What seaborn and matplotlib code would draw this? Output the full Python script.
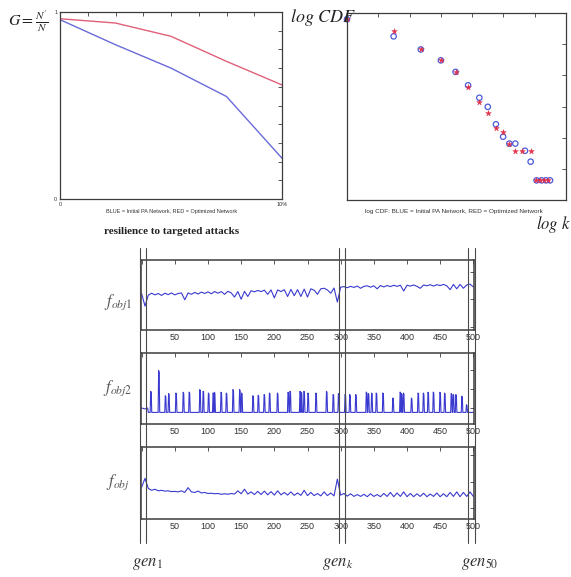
"""Resilience / degree distribution / objective traces figure."""

import matplotlib
matplotlib.use("Agg")
import matplotlib.pyplot as plt
import seaborn as sns
import numpy as np

sns.set_style("white")
plt.rcParams['font.family'] = ['Liberation Sans', 'DejaVu Sans']
plt.rcParams['mathtext.fontset'] = 'stix'

# --- top left: fraction of giant component vs. % of hubs removed
removed_pct = [0, 2.5, 5, 7.5, 10]
g_initial = [0.959, 0.825, 0.700, 0.548, 0.218]
g_optimized = [0.964, 0.941, 0.870, 0.736, 0.610]

# --- top right: log CDF of degree
logk_initial = [0.0, 1.49, 2.36, 3.00, 3.47, 3.87, 4.23, 4.50, 4.76, 4.99,
                5.19, 5.38, 5.69, 5.87, 6.06, 6.22, 6.36, 6.49]
logcdf_initial = [5.80, 5.25, 4.83, 4.48, 4.11, 3.68, 3.28, 2.99, 2.43, 2.03,
                  1.81, 1.81, 1.58, 1.23, 0.63, 0.63, 0.63, 0.63]
logk_optimized = [0.0, 1.49, 2.36, 3.00, 3.47, 3.87, 4.23, 4.50, 4.76, 4.99,
                  5.19, 5.38, 5.58, 5.87, 6.03, 6.17, 6.30, 6.44]
logcdf_optimized = [5.80, 5.42, 4.83, 4.48, 4.11, 3.61, 3.13, 2.78, 2.32, 2.19,
                    1.81, 1.58, 1.58, 1.58, 0.63, 0.63, 0.63, 0.63]

# --- bottom: objective traces over generations (sampled every 5 gens)
generations = list(range(0, 501, 5))
f_obj1 = [2.20, 1.75, 2.15, 2.22, 2.16, 2.21, 2.14, 2.22, 2.17, 2.23,
          2.16, 2.21, 2.23, 1.98, 2.23, 2.18, 2.25, 2.19, 2.26, 2.21,
          2.27, 2.20, 2.28, 2.22, 2.28, 2.18, 2.29, 2.23, 2.08, 2.28,
          2.00, 2.29, 2.10, 2.31, 2.27, 2.32, 2.28, 2.33, 2.18, 2.34,
          2.05, 2.34, 2.28, 2.35, 2.10, 2.36, 2.13, 2.35, 2.10, 2.37,
          2.08, 2.38, 2.33, 2.18, 2.38, 2.40, 2.34, 2.22, 2.41, 1.90,
          2.44, 2.46, 2.42, 2.47, 2.43, 2.48, 2.40, 2.47, 2.49, 2.44,
          2.49, 2.38, 2.50, 2.45, 2.50, 2.46, 2.51, 2.47, 2.51, 2.30,
          2.51, 2.48, 2.52, 2.47, 2.40, 2.52, 2.49, 2.53, 2.48, 2.53,
          2.50, 2.54, 2.49, 2.35, 2.54, 2.38, 2.54, 2.40, 2.52, 2.55,
          2.45]
f_obj = [1.80, 2.13, 1.75, 1.68, 1.72, 1.66, 1.68, 1.65, 1.66, 1.63,
         1.64, 1.62, 1.66, 1.60, 1.78, 1.62, 1.60, 1.65, 1.58, 1.60,
         1.56, 1.57, 1.55, 1.56, 1.53, 1.55, 1.53, 1.56, 1.54, 1.66,
         1.55, 1.72, 1.54, 1.62, 1.52, 1.64, 1.52, 1.65, 1.51, 1.63,
         1.50, 1.66, 1.51, 1.60, 1.50, 1.62, 1.49, 1.58, 1.49, 1.68,
         1.48, 1.60, 1.48, 1.56, 1.47, 1.62, 1.48, 1.58, 1.47, 2.10,
         1.50, 1.56, 1.46, 1.55, 1.45, 1.52, 1.45, 1.53, 1.44, 1.55,
         1.45, 1.52, 1.44, 1.56, 1.45, 1.60, 1.44, 1.58, 1.45, 1.62,
         1.44, 1.56, 1.44, 1.55, 1.45, 1.57, 1.44, 1.54, 1.45, 1.58,
         1.44, 1.55, 1.44, 1.60, 1.45, 1.62, 1.44, 1.60, 1.45, 1.62,
         1.45]

# f_obj2 is flat with narrow spikes
f2_start_gen = [0, 5, 9, 10]
f2_start_val = [1.00, 0.95, 1.00, 0.77]
f2_base = 0.77
spike_gen = [14, 26, 36, 41, 52, 63, 72, 88, 93, 101, 108, 110, 120, 128,
             138, 148, 151, 168, 176, 185, 193, 205, 221, 224, 239, 241, 245,
             251, 263, 279, 289, 297, 307, 314, 323, 339, 342, 347, 354, 364,
             379, 390, 392, 395, 407, 417, 425, 432, 440, 450, 457, 467, 470,
             474, 483, 490]
spike_val = [1.87, 2.95, 1.64, 1.75, 1.78, 1.82, 1.83, 1.96, 1.87, 1.78,
             1.78, 1.82, 1.82, 1.78, 1.96, 1.96, 1.78, 1.64, 1.66, 1.70,
             1.78, 1.78, 1.82, 1.87, 1.87, 1.82, 1.87, 1.78, 1.78, 1.87,
             1.70, 1.75, 1.70, 1.70, 1.70, 1.83, 1.75, 1.78, 1.78, 1.78,
             1.52, 1.83, 1.75, 1.78, 1.52, 1.78, 1.78, 1.82, 1.83, 1.82,
             1.78, 1.75, 1.70, 1.70, 1.61, 1.17]

# generation markers (pairs of vertical lines) and labels
gen_lines = [-2, 7, 297, 306, 492, 502]
gen_label_pos = [9, 296, 510]
gen_labels = [r'$gen_{\mathit{1}}$', r'$gen_k$', r'$gen_{\mathit{50}}$']

RED = '#e0607a'
BLUE = '#6a6ad8'
TRACE = '#3a3ad0'
EDGE = '#3c3c3c'

W, H = 571, 577
fig = plt.figure(figsize=(W / 100, H / 100), dpi=100)


def box(x0, y0, x1, y1):
    """pixel box (top-left origin) -> figure fraction rect"""
    return [x0 / W, 1 - y1 / H, (x1 - x0) / W, (y1 - y0) / H]


def style(ax, lw=0.9):
    for s in ax.spines.values():
        s.set_color(EDGE)
        s.set_linewidth(lw)
    ax.tick_params(direction='in', top=True, right=True, length=3,
                   width=0.6, color=EDGE, labelcolor='#333333', pad=2)
    ax.set_xlabel('')
    ax.set_ylabel('')


# ---------------- top left
ax1 = fig.add_axes(box(60, 12, 282, 199))
sns.lineplot(x=removed_pct, y=g_optimized, color=RED, lw=1.0, ax=ax1)
sns.lineplot(x=removed_pct, y=g_initial, color=BLUE, lw=1.0, ax=ax1)
ax1.set_xlim(0, 10)
ax1.set_ylim(0, 1)
ax1.set_xticks(np.linspace(0, 10, 9))
ax1.set_xticklabels(['0'] + [''] * 7 + ['10%'], fontsize=4)
ax1.set_yticks(np.linspace(0, 1, 11))
ax1.set_yticklabels(['0'] + [''] * 9 + ['1'], fontsize=4)
style(ax1)
fig.text(172 / W, 1 - 212 / H, 'BLUE = Initial PA Network, RED = Optimized Network',
         fontsize=4, ha='center', va='center', color='#333333')
fig.text(172 / W, 1 - 231 / H, 'resilience to targeted attacks',
         family='Liberation Serif', fontweight='bold', fontsize=8,
         ha='center', va='center', color='#222222')
fig.text(8 / W, 1 - 22 / H, r"$G=\frac{N'}{N}$", fontsize=11.5,
         ha='left', va='center', color='#222222')

# ---------------- top right
ax2 = fig.add_axes(box(347, 13, 566, 200))
sns.scatterplot(x=logk_initial, y=logcdf_initial, marker='o', s=15,
                facecolors='none', edgecolor='#4a5ad8', linewidth=0.9,
                clip_on=False, ax=ax2)
sns.scatterplot(x=logk_optimized, y=logcdf_optimized, marker='*', s=18,
                color='#e0304a', edgecolor='#e0304a', linewidth=0.3,
                clip_on=False, ax=ax2)
ax2.set_xlim(0, 7)
ax2.set_ylim(0, 6)
ax2.set_xticks(range(8))
ax2.set_yticks(range(7))
ax2.set_xticklabels([])
ax2.set_yticklabels([])
style(ax2)
fig.text(454 / W, 1 - 212 / H,
         'log CDF: BLUE = Initial PA Network, RED = Optimized Network',
         fontsize=4.6, ha='center', va='center', color='#333333')
fig.text(290 / W, 1 - 18 / H, r'$log\ CDF$', fontsize=13,
         ha='left', va='center', color='#222222')
fig.text(536 / W, 1 - 224 / H, r'$log\ k$', fontsize=12,
         ha='left', va='center', color='#222222')

# ---------------- bottom traces
f2_gen = list(f2_start_gen)
f2_val = list(f2_start_val)
for g, h in zip(spike_gen, spike_val):
    f2_gen += [g - 1.2, g - 0.4, g + 0.4, g + 1.2]
    f2_val += [f2_base, h, h * 0.97, f2_base]
f2_gen.append(500)
f2_val.append(f2_base)

panels = [
    (box(141, 260, 474, 330), generations, f_obj1, (0.88, 3.43),
     r'$f_{\mathit{obj1}}$', 302),
    (box(141, 353, 474, 424), f2_gen, f2_val, (0.165, 3.87),
     r'$f_{\mathit{obj2}}$', 388),
    (box(141, 447, 474, 519), generations, f_obj, (0.60, 3.31),
     r'$f_{\mathit{obj}}$', 482),
]
for rect, xs, ys, ylim, lab, ly in panels:
    ax = fig.add_axes(rect)
    sns.lineplot(x=xs, y=ys, color=TRACE, lw=0.8, sort=False,
                 estimator=None, ax=ax)
    ax.set_xlim(-1, 501)
    ax.set_ylim(*ylim)
    ax.set_xticks(range(0, 501, 50))
    ax.set_xticklabels([''] + [str(v) for v in range(50, 501, 50)], fontsize=6.5)
    ax.set_yticks([1, 2, 3])
    ax.set_yticklabels([])
    style(ax, lw=1.1)
    fig.text(118 / W, 1 - ly / H, lab, fontsize=12, ha='center',
             va='center', color='#555555')

# overlay for the generation marker lines
ov = fig.add_axes(box(141, 248, 474, 543))
ov.set_xlim(-1, 501)
ov.set_ylim(0, 1)
ov.axis('off')
ov.patch.set_alpha(0)
for g in gen_lines:
    ov.axvline(g, color='#4a4a4a', lw=0.8, clip_on=False)
for g, lab in zip(gen_label_pos, gen_labels):
    ov.text(g, -0.07, lab, fontsize=12, ha='center', va='center',
            color='#333333', clip_on=False)

plt.savefig('out.png', dpi=100)
plt.close()
